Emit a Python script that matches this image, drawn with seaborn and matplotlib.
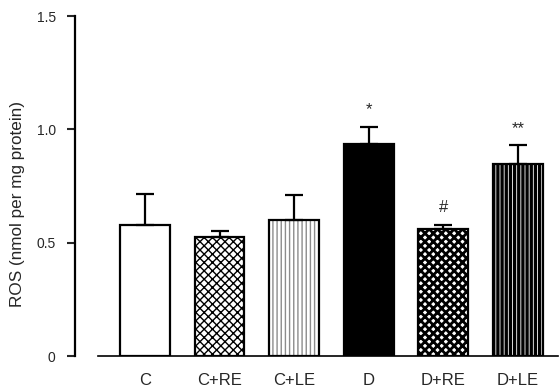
import matplotlib
matplotlib.use("Agg")
import matplotlib.pyplot as plt
import seaborn as sns
import numpy as np
import pandas as pd

groups = ["C", "C+RE", "C+LE", "D", "D+RE", "D+LE"]
ros_mean = [0.58, 0.525, 0.60, 0.935, 0.56, 0.845]
ros_sem = [0.135, 0.025, 0.11, 0.075, 0.02, 0.085]
marks = ["", "", "", "*", "#", "**"]

df = pd.DataFrame({"group": groups, "ros": ros_mean})

sns.set_style("white")
plt.rcParams["font.family"] = ["Liberation Sans", "DejaVu Sans"]

fig = plt.figure(figsize=(5.59, 3.89), dpi=100)
ax = fig.add_axes([98 / 559, 1 - 356 / 389, 460 / 559, 340 / 389])

sns.barplot(data=df, x="group", y="ros", order=groups, color="white",
            width=0.67, edgecolor="black", linewidth=1.6, errorbar=None, ax=ax)

# fill styles per bar: (face, hatch, hatch colour, hatch width)
styles = [
    ("white", "", "black", 1.0),
    ("white", "xxxx", "black", 1.0),
    ("white", "||||", "0.55", 1.0),
    ("black", "", "black", 1.0),
    ("white", "xxxx", "black", 2.0),
    ("white", "||||", "black", 2.4),
]
for p, (fc, hatch, hc, hw) in zip(ax.patches, styles):
    p.set_facecolor(fc)
    if hatch:
        p.set_hatch(hatch)
        p.set_edgecolor(hc)
        p.set_linewidth(0)
        if hasattr(p, "set_hatch_linewidth"):
            p.set_hatch_linewidth(hw)
        else:
            p._hatch_linewidth = hw
        outline = plt.Rectangle((p.get_x(), p.get_y()), p.get_width(), p.get_height(),
                                fill=False, edgecolor="black", linewidth=1.6, zorder=p.get_zorder() + 0.1)
        ax.add_patch(outline)

xs = [p.get_x() + p.get_width() / 2 for p in ax.patches[:len(groups)]]
ax.errorbar(xs, ros_mean, yerr=[np.zeros(len(groups)), ros_sem], fmt="none",
            ecolor="black", elinewidth=1.6, capsize=6.5, capthick=1.6, zorder=1)

for x, m, s, mk in zip(xs, ros_mean, ros_sem, marks):
    if mk:
        ax.text(x, m + s + 0.075, mk, ha="center", va="center", fontsize=12)

ax.set_xlim(-0.63, 5.54)
ax.set_ylim(0, 1.5)
ax.set_yticks([0, 0.5, 1.0, 1.5])
ax.set_yticklabels(["0", "0.5", "1.0", "1.5"], fontsize=11.5)
ax.tick_params(axis="y", direction="out", length=6, width=1.5, left=True, pad=8)
ax.tick_params(axis="x", length=0, pad=12, labelsize=12)
ax.set_xlabel("")
ax.set_ylabel("ROS (nmol per mg protein)", fontsize=12.3, labelpad=8)
ax.yaxis.label.set_y(0.447)

for side in ["top", "right"]:
    ax.spines[side].set_visible(False)
ax.spines["left"].set_position(("outward", 16.5))
ax.spines["left"].set_linewidth(1.6)
ax.spines["bottom"].set_linewidth(1.2)
ax.spines["left"].set_color("black")
ax.spines["bottom"].set_color("black")

fig.savefig("out.png", dpi=100)
